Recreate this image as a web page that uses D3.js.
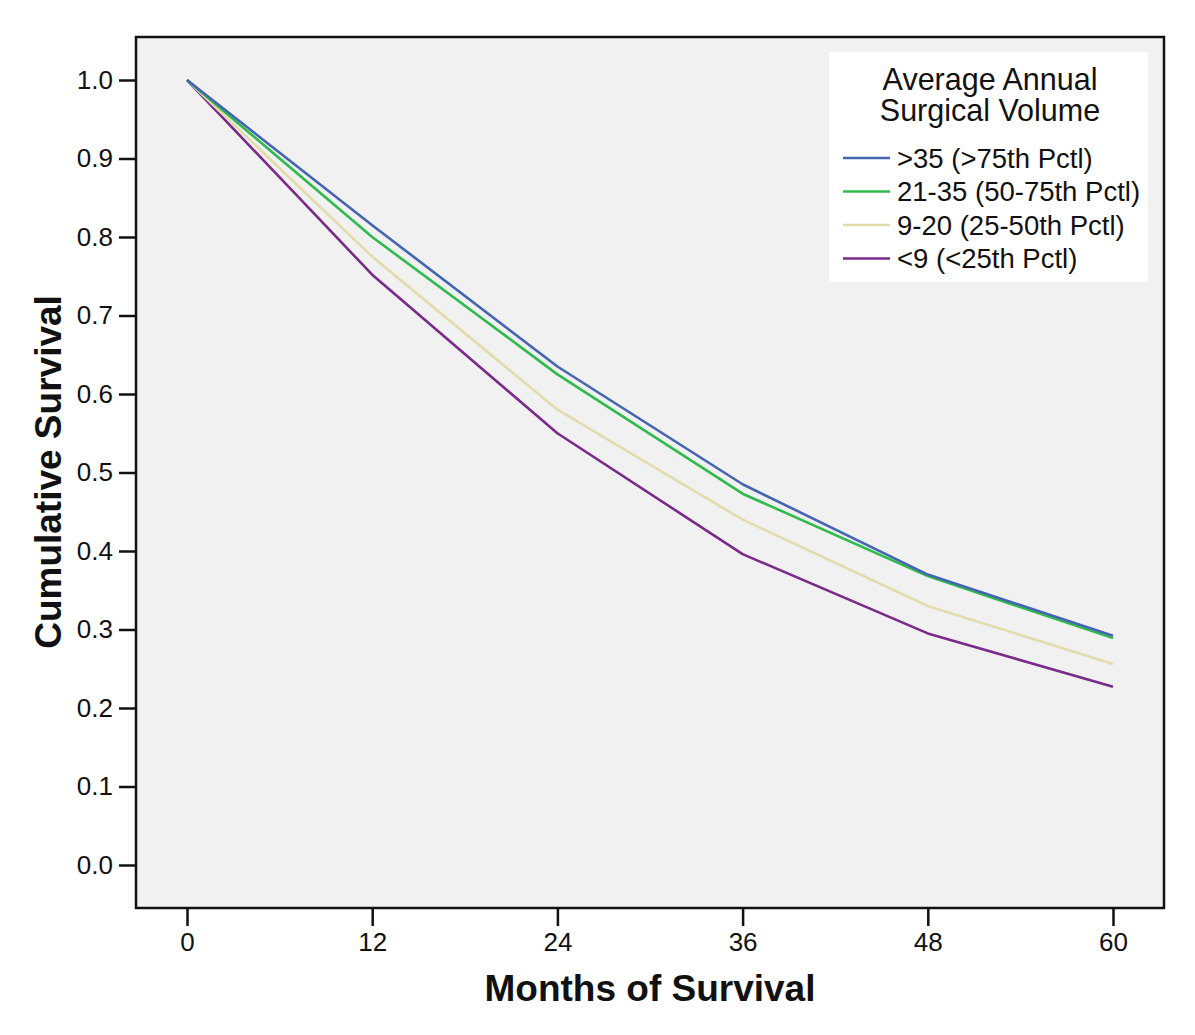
<!DOCTYPE html>
<html>
<head>
<meta charset="utf-8">
<script src="https://cdn.jsdelivr.net/npm/d3@7"></script>
<style>
  body { margin: 0; background: #fff; }
  svg { display: block; font-family: "Liberation Sans", Arial, sans-serif; }
</style>
</head>
<body>
<svg id="chart" width="1195" height="1035"></svg>
<script>
// months at which survival is read
var months = [0, 12, 24, 36, 48, 60];
var yTicks = [0, 0.1, 0.2, 0.3, 0.4, 0.5, 0.6, 0.7, 0.8, 0.9, 1.0];

var groupNames = [">35 (>75th Pctl)", "21-35 (50-75th Pctl)", "9-20 (25-50th Pctl)", "<9 (<25th Pctl)"];
var groupColors = ["#4565b3", "#2fbb4c", "#e2dcac", "#7a2a88"];

var survHigh = [1.0, 0.815, 0.635, 0.485, 0.370, 0.292];
var survMidHigh = [1.0, 0.800, 0.625, 0.473, 0.368, 0.289];
var survMidLow = [1.0, 0.775, 0.580, 0.440, 0.330, 0.256];
var survLow = [1.0, 0.752, 0.550, 0.396, 0.295, 0.227];

var series = [survHigh, survMidHigh, survMidLow, survLow];

var svg = d3.select("#chart");

var frame = { left: 136, top: 37, right: 1164, bottom: 908 };

var x = d3.scaleLinear().domain([0, 60]).range([187, 1113]);
var y = d3.scaleLinear().domain([0, 1]).range([865, 80]);

// plot background
svg.append("rect")
  .attr("x", frame.left)
  .attr("y", frame.top)
  .attr("width", frame.right - frame.left)
  .attr("height", frame.bottom - frame.top)
  .attr("fill", "#f1f1f1")
  .attr("stroke", "#111")
  .attr("stroke-width", 2.5);

// y axis
var yAxis = d3.axisLeft(y)
  .tickValues(yTicks)
  .tickFormat(d3.format(".1f"))
  .tickSize(17)
  .tickPadding(6);

var yg = svg.append("g")
  .attr("transform", "translate(" + frame.left + ",0)")
  .call(yAxis);
yg.attr("font-size", 26).attr("font-family", "'Liberation Sans', Arial, sans-serif");
yg.select(".domain").remove();
yg.selectAll(".tick line").attr("stroke", "#111").attr("stroke-width", 2.5);
yg.selectAll(".tick text").attr("fill", "#111");

// x axis
var xAxis = d3.axisBottom(x)
  .tickValues(months)
  .tickSize(18)
  .tickPadding(7);

var xg = svg.append("g")
  .attr("transform", "translate(0," + frame.bottom + ")")
  .call(xAxis);
xg.attr("font-size", 26).attr("font-family", "'Liberation Sans', Arial, sans-serif");
xg.select(".domain").remove();
xg.selectAll(".tick line").attr("stroke", "#111").attr("stroke-width", 2.5);
xg.selectAll(".tick text").attr("fill", "#111");

// survival curves
var line = d3.line()
  .x(function (d, i) { return x(months[i]); })
  .y(function (d) { return y(d); });

svg.append("g")
  .selectAll("path")
  .data(series.slice().reverse())
  .enter()
  .append("path")
  .attr("d", line)
  .attr("fill", "none")
  .attr("stroke", function (d, i) { return groupColors[series.length - 1 - i]; })
  .attr("stroke-width", 2.6)
  .attr("stroke-linejoin", "round");

// axis titles
svg.append("text")
  .attr("x", 650)
  .attr("y", 1001)
  .attr("text-anchor", "middle")
  .attr("font-size", 37)
  .attr("font-weight", "bold")
  .attr("fill", "#111")
  .text("Months of Survival");

svg.append("text")
  .attr("transform", "translate(61,472) rotate(-90)")
  .attr("text-anchor", "middle")
  .attr("font-size", 37)
  .attr("font-weight", "bold")
  .attr("fill", "#111")
  .text("Cumulative Survival");

// legend
var legend = svg.append("g");

legend.append("rect")
  .attr("x", 829)
  .attr("y", 52)
  .attr("width", 319)
  .attr("height", 230)
  .attr("fill", "#fff");

legend.selectAll(".legend-title")
  .data(["Average Annual", "Surgical Volume"])
  .enter()
  .append("text")
  .attr("class", "legend-title")
  .attr("x", 990)
  .attr("y", function (d, i) { return 90 + i * 31; })
  .attr("text-anchor", "middle")
  .attr("font-size", 30.5)
  .attr("fill", "#111")
  .text(function (d) { return d; });

var items = legend.selectAll(".legend-item")
  .data(groupNames)
  .enter()
  .append("g")
  .attr("class", "legend-item")
  .attr("transform", function (d, i) { return "translate(0," + (158 + i * 33.5) + ")"; });

items.append("line")
  .attr("x1", 843)
  .attr("x2", 890)
  .attr("stroke", function (d, i) { return groupColors[i]; })
  .attr("stroke-width", 2.6);

items.append("text")
  .attr("x", 897)
  .attr("dy", "0.36em")
  .attr("font-size", 27.5)
  .attr("fill", "#111")
  .text(function (d) { return d; });
</script>
</body>
</html>
